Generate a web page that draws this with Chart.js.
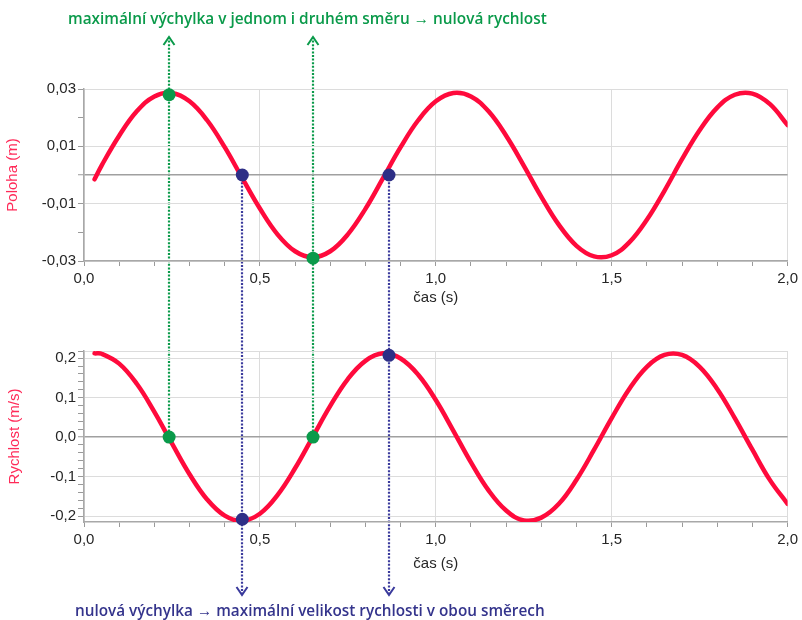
<!DOCTYPE html>
<html><head><meta charset="utf-8">
<script src="https://cdn.jsdelivr.net/npm/chart.js@4.4.1/dist/chart.umd.min.js"></script>
<style>
html,body{margin:0;padding:0;background:#fff;}
#wrap{position:relative;width:802px;height:620px;overflow:hidden;background:#fff;}
canvas{position:absolute;left:0;}
#overlay{top:0;z-index:0}
#c1{top:70px;z-index:1}
#c2{top:340px;z-index:1}
.note{position:absolute;white-space:nowrap;font-family:'Open Sans',sans-serif;font-weight:600;font-size:16px;transform-origin:0 50%;line-height:20px;z-index:2}
#noteTop{left:68px;top:8px;color:#0a9a4a}
#noteBottom{left:75px;top:600px;color:#34348c}
</style></head>
<body><div id="wrap">
<canvas id="overlay" width="802" height="620"></canvas>
<canvas id="c1" width="802" height="241"></canvas>
<canvas id="c2" width="802" height="237"></canvas>
<div class="note" id="noteTop">maximální výchylka v jednom i druhém směru → nulová rychlost</div>
<div class="note" id="noteBottom">nulová výchylka → maximální velikost rychlosti v obou směrech</div>
</div>
<script>
// ---- data ----
const times = [0.03,0.05,0.10,0.15,0.20,0.25,0.30,0.35,0.40,0.45,0.50,0.55,0.60,0.65,0.70,0.75,0.80,0.85,0.90,0.95,1.00,1.05,1.10,1.15,1.20,1.25,1.30,1.35,1.40,1.45,1.50,1.55,1.60,1.65,1.70,1.75,1.80,1.85,1.90,1.95,2.00];
const position = [-0.0015,0.0033,0.0137,0.0222,0.0274,0.0286,0.0257,0.0191,0.0097,-0.0011,-0.0117,-0.0207,-0.0266,-0.0287,-0.0266,-0.0207,-0.0118,-0.0011,0.0097,0.0191,0.0257,0.0286,0.0274,0.0222,0.0137,0.0033,-0.0076,-0.0174,-0.0247,-0.0284,-0.0280,-0.0235,-0.0156,-0.0055,0.0055,0.0156,0.0235,0.0280,0.0284,0.0247,0.0174];
const velocity = [0.212,0.211,0.186,0.135,0.064,-0.016,-0.094,-0.158,-0.199,-0.212,-0.194,-0.147,-0.079,0.000,0.079,0.147,0.193,0.212,0.199,0.158,0.094,0.016,-0.064,-0.135,-0.186,-0.211,-0.204,-0.169,-0.108,-0.032,0.048,0.122,0.178,0.208,0.208,0.178,0.122,0.048,-0.032,-0.109,-0.169];

const greenTimes = [0.242, 0.651];
const greenPos = [0.0280, -0.0290];
const greenVel = [0, 0];
const blueTimes = [0.450, 0.867];
const bluePos = [0, 0];
const blueVel = [-0.208, 0.207];

const xTickValues = [0,0.1,0.2,0.3,0.4,0.5,0.6,0.7,0.8,0.9,1.0,1.1,1.2,1.3,1.4,1.5,1.6,1.7,1.8,1.9,2.0];
const xLabelValues = [0,0.5,1.0,1.5,2.0];
const posTickValues = [-0.03,-0.02,-0.01,0,0.01,0.02,0.03];
const posLabelValues = [-0.03,-0.01,0.01,0.03];
const velTickValues = [-0.2,-0.18,-0.16,-0.14,-0.12,-0.1,-0.08,-0.06,-0.04,-0.02,0,0.02,0.04,0.06,0.08,0.1,0.12,0.14,0.16,0.18,0.2,0.218];
const velLabelValues = [-0.2,-0.1,0,0.1,0.2];

// ---- styling ----
const RED = '#ff0a3c', TITLE_RED = '#ff2a58', GREEN = '#0a9a4a', BLUE = '#2e2f86', BLUE_LINE = '#3a3a9c';
Chart.defaults.font.family = "'Liberation Sans', Arial, sans-serif";
Chart.defaults.font.size = 15;
Chart.defaults.color = '#262626';

const near = (a, b) => Math.abs(a - b) < 1e-9;
const inList = (v, list) => list.some(l => near(l, v));
const fmt = (v, d) => v.toFixed(d).replace('.', ',').replace(/^-0,0+$/, m => m.slice(1));

function xScale(titleBottomPad, axisHeight) {
  return {
    type: 'linear', min: 0, max: 2,
    afterBuildTicks: s => { s.ticks = xTickValues.map(v => ({ value: v })); },
    afterFit: s => { s.height = axisHeight; },
    ticks: { autoSkip: false, maxRotation: 0, padding: 4, color: '#262626',
      callback: v => inList(v, xLabelValues) ? fmt(v, 1) : '' },
    grid: { drawTicks: true, tickLength: 5, tickColor: '#9a9a9a', tickWidth: 1,
      color: c => (c.tick && inList(c.tick.value, xLabelValues)) ? '#dcdcdc' : 'rgba(0,0,0,0)',
      lineWidth: 1 },
    border: { color: '#a8a8a8', width: 1.5 },
    title: { display: true, text: 'čas (s)', color: '#262626', font: { size: 15 }, padding: { top: 2, bottom: titleBottomPad } }
  };
}
function yScale(min, max, tickVals, labelVals, digits, title, titlePad) {
  return {
    type: 'linear', min: min, max: max,
    afterBuildTicks: s => { s.ticks = tickVals.map(v => ({ value: v })); },
    afterFit: s => { s.width = 84; },
    ticks: { autoSkip: false, padding: 2, color: '#262626',
      callback: v => inList(v, labelVals) ? fmt(v, digits) : '' },
    grid: { drawTicks: true, tickLength: 6, tickColor: '#9a9a9a', tickWidth: 1,
      color: c => {
        if (!c.tick) return 'rgba(0,0,0,0)';
        const v = c.tick.value;
        if (near(v, 0)) return '#a0a0a0';
        if (inList(v, labelVals) || near(v, max)) return '#dcdcdc';
        return 'rgba(0,0,0,0)';
      },
      lineWidth: c => (c.tick && near(c.tick.value, 0)) ? 1.5 : 1 },
    border: { color: '#a8a8a8', width: 1.5 },
    title: { display: true, text: title, color: TITLE_RED, font: { size: 15 }, padding: { top: titlePad, bottom: 0 } }
  };
}
function datasets(yValues, gT, gY, bT, bY) {
  return [
    { type: 'scatter', data: gT.map((t, i) => ({ x: t, y: gY[i] })), pointRadius: 6.5, pointBackgroundColor: GREEN, pointBorderColor: GREEN, pointBorderWidth: 0, showLine: false, clip: false },
    { type: 'scatter', data: bT.map((t, i) => ({ x: t, y: bY[i] })), pointRadius: 6.5, pointBackgroundColor: BLUE, pointBorderColor: BLUE, pointBorderWidth: 0, showLine: false, clip: false },
    { type: 'line', data: times.map((t, i) => ({ x: t, y: yValues[i] })), borderColor: RED, borderWidth: 4.5, pointRadius: 0, tension: 0.4, borderCapStyle: 'round', borderJoinStyle: 'round', fill: false }
  ];
}
function makeChart(id, ds, x, y, padTop) {
  return new Chart(document.getElementById(id), {
    type: 'line',
    data: { datasets: ds },
    options: {
      responsive: false, animation: false, events: [],
      layout: { padding: { top: padTop, right: 14, left: 0, bottom: 0 } },
      plugins: { legend: { display: false }, tooltip: { enabled: false } },
      scales: { x: x, y: y }
    }
  });
}

const chart1 = makeChart('c1', datasets(position, greenTimes, greenPos, blueTimes, bluePos),
  xScale(4, 50), yScale(-0.03, 0.03, posTickValues, posLabelValues, 2, 'Poloha (m)', 4), 19);
const chart2 = makeChart('c2', datasets(velocity, greenTimes, greenVel, blueTimes, blueVel),
  xScale(4, 55), yScale(-0.215, 0.218, velTickValues, velLabelValues, 1, 'Rychlost (m/s)', 6), 11);

// ---- dotted guide arrows (behind the charts), positioned with the charts' scales ----
function drawOverlay() {
  const cv = document.getElementById('overlay');
  const ctx = cv.getContext('2d');
  const top1 = document.getElementById('c1').offsetTop;
  const top2 = document.getElementById('c2').offsetTop;
  const tipUp = top1 + chart1.chartArea.top - 52;
  const tipDown = top2 + chart2.chartArea.bottom + 73;
  function arrow(x, y1, y2, color, tipAtTop) {
    ctx.strokeStyle = color;
    ctx.lineWidth = 2.2;
    ctx.setLineDash([2, 1.6]);
    ctx.beginPath(); ctx.moveTo(x, y1); ctx.lineTo(x, y2); ctx.stroke();
    ctx.setLineDash([]);
    ctx.lineWidth = 2;
    ctx.beginPath();
    if (tipAtTop) { ctx.moveTo(x - 5.5, y1 + 8); ctx.lineTo(x, y1); ctx.lineTo(x + 5.5, y1 + 8); }
    else { ctx.moveTo(x - 5.5, y2 - 8); ctx.lineTo(x, y2); ctx.lineTo(x + 5.5, y2 - 8); }
    ctx.stroke();
  }
  greenTimes.forEach((t, i) => {
    const x = Math.round(chart1.scales.x.getPixelForValue(t));
    const yEnd = top2 + chart2.scales.y.getPixelForValue(greenVel[i]);
    arrow(x, tipUp, yEnd, GREEN, true);
  });
  blueTimes.forEach((t, i) => {
    const x = Math.round(chart1.scales.x.getPixelForValue(t));
    const yStart = top1 + chart1.scales.y.getPixelForValue(bluePos[i]);
    arrow(x, yStart, tipDown, BLUE_LINE, false);
  });
}
drawOverlay();

function fitNote(id, w) {
  const el = document.getElementById(id);
  el.style.transform = '';
  const s = w / el.offsetWidth;
  el.style.transform = 'scaleX(' + s + ')';
}
function fitNotes() { fitNote('noteTop', 479); fitNote('noteBottom', 470); }
fitNotes();
if (document.fonts && document.fonts.ready) document.fonts.ready.then(fitNotes);
</script>
</body></html>
